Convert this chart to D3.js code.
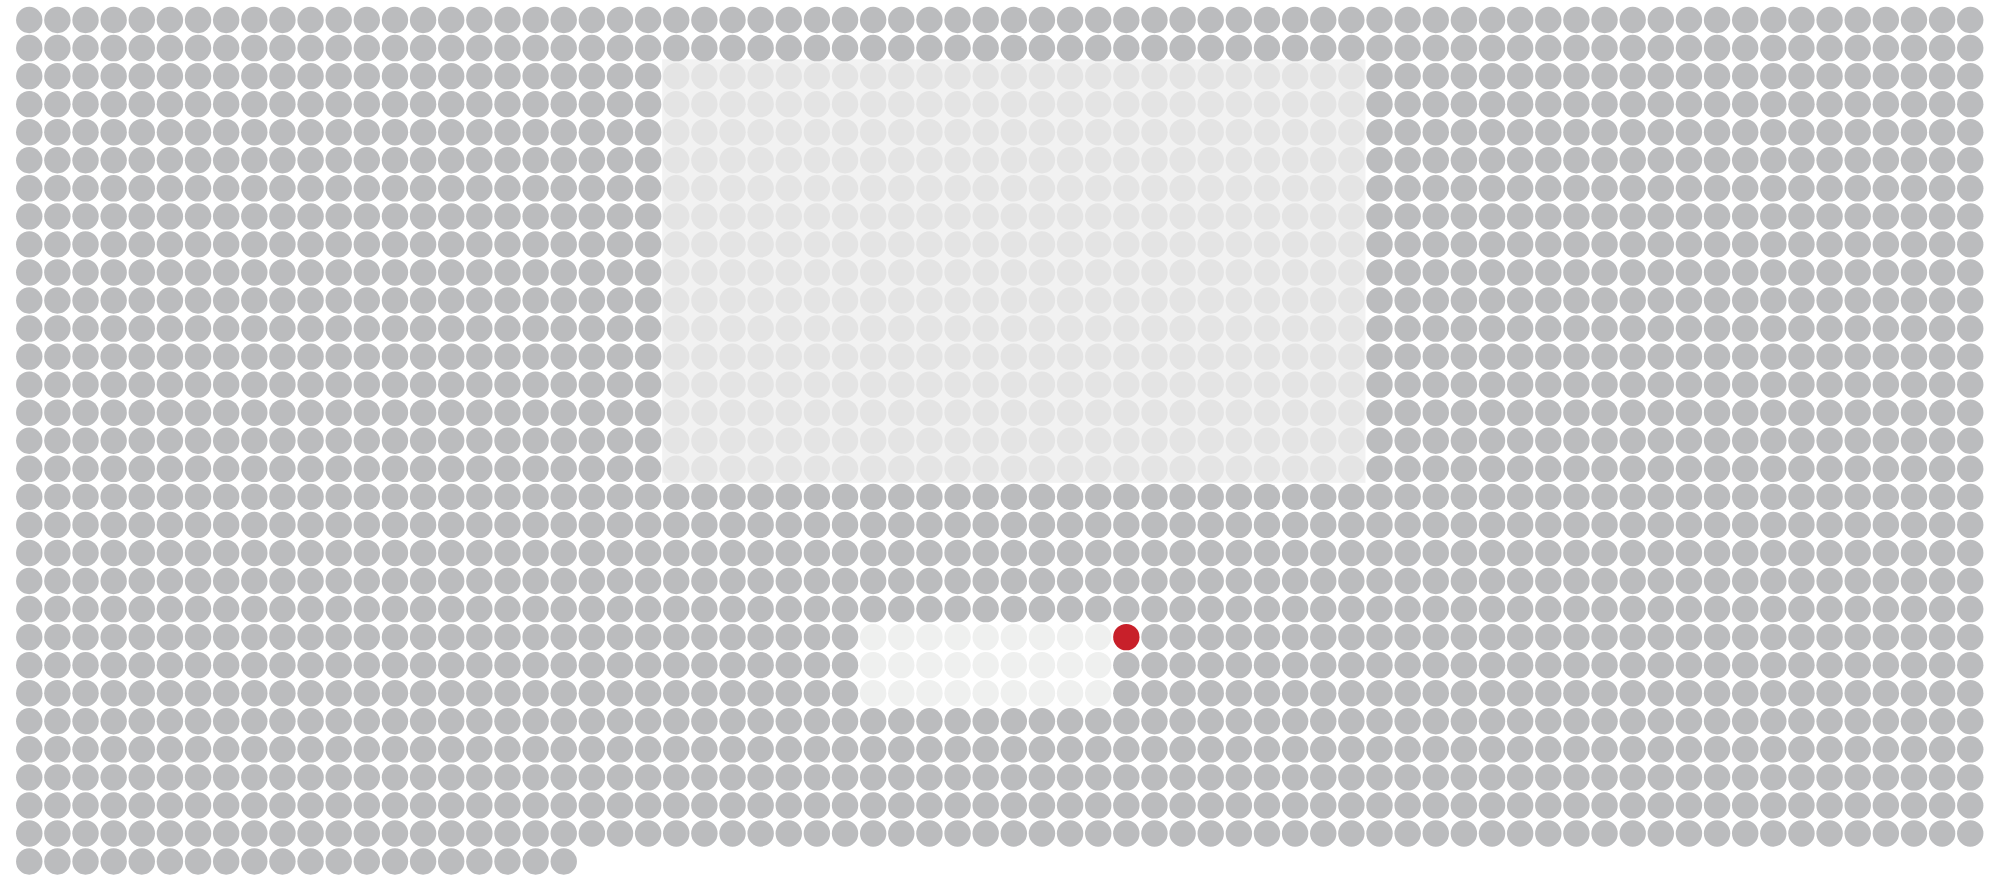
<!DOCTYPE html>
<html>
<head>
<meta charset="utf-8">
<script src="https://cdn.jsdelivr.net/npm/d3@7"></script>
<style>
  html, body { margin: 0; padding: 0; background: #ffffff; }
  svg { display: block; }
</style>
</head>
<body>
<svg id="chart" width="2000" height="890"></svg>
<script>
// ---- data ----
const totalDots = [2120];            // number of dots in the waffle
const gridColumns = [70];            // dots per row
const blockRows = [2, 16];           // shaded block: first/last row
const blockCols = [23, 47];          // shaded block: first/last column
const subsetRows = [22, 24];         // faded subset: first/last row
const subsetCols = [30, 38];         // faded subset: first/last column
const markedCell = [22, 39];         // highlighted dot: row, column
const categoryNames = ["rest", "block", "subset", "marked"];
const categoryColors = ["#bbbcbe", "#e4e4e4", "#eff0ef", "#c8202a"];

// ---- build dots ----
const N = totalDots[0], C = gridColumns[0];
const R = Math.ceil(N / C);
const dots = d3.range(N).map(i => {
  const row = Math.floor(i / C), col = i % C;
  let cat = "rest";
  if (row === markedCell[0] && col === markedCell[1]) cat = "marked";
  else if (row >= blockRows[0] && row <= blockRows[1] && col >= blockCols[0] && col <= blockCols[1]) cat = "block";
  else if (row >= subsetRows[0] && row <= subsetRows[1] && col >= subsetCols[0] && col <= subsetCols[1]) cat = "subset";
  return { i, row, col, cat };
});

const svg = d3.select("#chart");
const x = d3.scaleBand().domain(d3.range(C)).range([15.2, 15.2 + C * 28.13]).paddingInner(0);
const y = d3.scaleBand().domain(d3.range(R)).range([5.97, 5.97 + R * 28.05]).paddingInner(0);
const color = d3.scaleOrdinal().domain(categoryNames).range(categoryColors);
const r = 13.2;

// backdrop of shaded block
svg.append("rect")
  .attr("x", x(blockCols[0]))
  .attr("y", y(blockRows[0]) - 2.7)
  .attr("width", x(blockCols[1]) + x.bandwidth() - x(blockCols[0]))
  .attr("height", y(blockRows[1]) + y.bandwidth() - y(blockRows[0]) + 2.7)
  .attr("fill", "#f2f2f2");

svg.append("g").selectAll("circle")
  .data(dots)
  .join("circle")
  .attr("cx", d => x(d.col) + x.bandwidth() / 2)
  .attr("cy", d => y(d.row) + y.bandwidth() / 2)
  .attr("r", r)
  .attr("fill", d => color(d.cat));
</script>
</body>
</html>
